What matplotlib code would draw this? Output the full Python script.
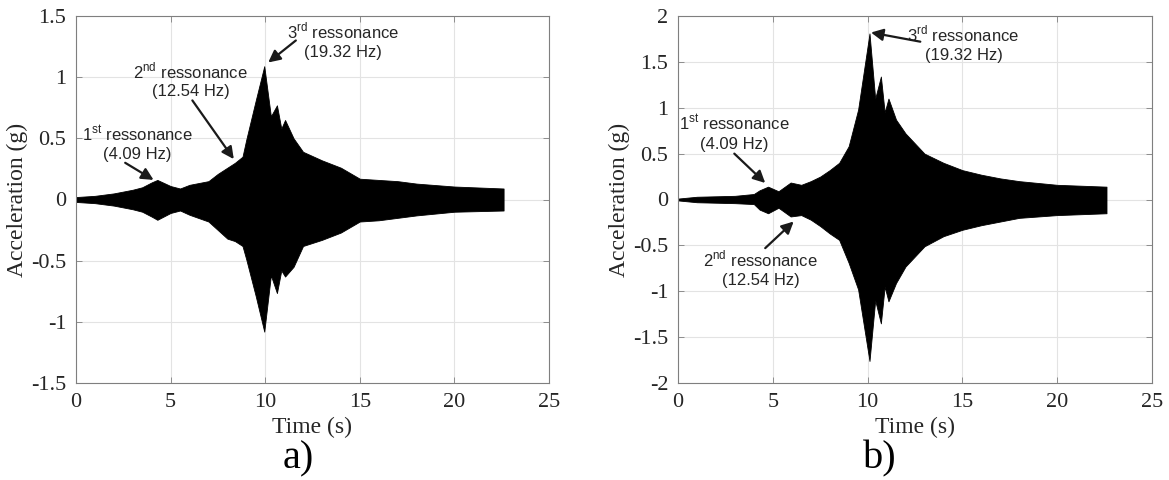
import numpy as np
import matplotlib
matplotlib.use('Agg')
import matplotlib.pyplot as plt

plt.rcParams['mathtext.fontset'] = 'custom'
plt.rcParams['mathtext.rm'] = 'Liberation Sans'

# envelope of the response (time s, upper g, lower g)
t_a = [0, 1, 2, 3, 3.5, 4, 4.3, 5, 5.5, 6, 7, 7.5, 8, 8.4, 8.8, 9, 9.5, 9.95,
       10.3, 10.62, 10.85, 11.05, 11.5, 12, 13, 14, 15, 16, 17, 18, 20, 22.6]
up_a = [0.02, 0.03, 0.05, 0.08, 0.10, 0.14, 0.16, 0.11, 0.09, 0.12, 0.15, 0.21,
        0.26, 0.30, 0.35, 0.49, 0.81, 1.09, 0.68, 0.77, 0.58, 0.65, 0.50, 0.39,
        0.32, 0.26, 0.17, 0.16, 0.15, 0.13, 0.106, 0.09]
lo_a = [-0.02, -0.03, -0.05, -0.08, -0.10, -0.14, -0.166, -0.11, -0.09, -0.125,
        -0.18, -0.25, -0.32, -0.34, -0.38, -0.49, -0.79, -1.08, -0.62, -0.765,
        -0.58, -0.63, -0.55, -0.38, -0.33, -0.27, -0.18, -0.17, -0.15, -0.13,
        -0.10, -0.09]

t_b = [0, 1, 2, 3, 4, 4.3, 4.75, 5.3, 5.94, 6.5, 7, 7.5, 8, 8.5, 9, 9.5, 10.1,
       10.4, 10.7, 10.9, 11.1, 11.5, 12, 13, 14, 15, 16, 17, 18, 20, 22.6]
up_b = [0.01, 0.03, 0.035, 0.04, 0.06, 0.10, 0.14, 0.09, 0.185, 0.16, 0.20, 0.25,
        0.32, 0.40, 0.58, 0.98, 1.81, 1.10, 1.34, 0.95, 1.10, 0.87, 0.72, 0.50,
        0.40, 0.32, 0.27, 0.23, 0.20, 0.16, 0.14]
lo_b = [-0.01, -0.03, -0.035, -0.04, -0.05, -0.11, -0.15, -0.09, -0.185, -0.17,
        -0.22, -0.29, -0.37, -0.44, -0.69, -0.98, -1.76, -1.10, -1.35, -0.95,
        -1.11, -0.91, -0.73, -0.51, -0.40, -0.33, -0.28, -0.24, -0.20, -0.17,
        -0.15]

# annotations: text, text position, arrow tail, arrow head
notes_a = [
    ('3$^{\\mathrm{rd}}$ ressonance\n(19.32 Hz)', (14.1, 1.30), (11.62, 1.30), (10.16, 1.12)),
    ('2$^{\\mathrm{nd}}$ ressonance\n(12.54 Hz)', (6.07, 0.98), (6.15, 0.81), (8.34, 0.33)),
    ('1$^{\\mathrm{st}}$ ressonance\n(4.09 Hz)', (3.25, 0.46), (2.6, 0.30), (4.1, 0.16)),
]
notes_b = [
    ('3$^{\\mathrm{rd}}$ ressonance\n(19.32 Hz)', (15.06, 1.70), (12.78, 1.72), (10.18, 1.82)),
    ('1$^{\\mathrm{st}}$ ressonance\n(4.09 Hz)', (2.97, 0.73), (2.97, 0.50), (4.6, 0.18)),
    ('2$^{\\mathrm{nd}}$ ressonance\n(12.54 Hz)', (4.36, -0.75), (4.6, -0.53), (6.1, -0.24)),
]

fig = plt.figure(figsize=(11.69, 4.8), dpi=100)
ax1 = fig.add_axes([76 / 1169, 1 - 383 / 480, 473 / 1169, 367 / 480])
ax2 = fig.add_axes([678 / 1169, 1 - 383 / 480, 474 / 1169, 367 / 480])


def style(ax, ylim, yticks, ylabels):
    ax.set_xlim(0, 25)
    ax.set_ylim(*ylim)
    ax.set_xticks([0, 5, 10, 15, 20, 25])
    ax.set_yticks(yticks)
    ax.set_yticklabels(ylabels)
    ax.grid(True, color='#e3e3e3', lw=0.8)
    ax.set_axisbelow(True)
    for s in ax.spines.values():
        s.set_color('#7f7f7f')
        s.set_linewidth(0.8)
    ax.tick_params(direction='in', length=4, width=0.6, color='#7f7f7f',
                   top=True, right=True, labelsize=16, labelcolor='#262626', pad=7)
    for lab in ax.get_xticklabels() + ax.get_yticklabels():
        lab.set_family('Liberation Serif')
    ax.set_xlabel('Time (s)', family='Liberation Serif', fontsize=17,
                  color='#262626', labelpad=4)
    ax.set_ylabel('Acceleration (g)', family='Liberation Serif', fontsize=17,
                  color='#262626', labelpad=2)


for ax, t, up, lo, notes in [(ax1, t_a, up_a, lo_a, notes_a), (ax2, t_b, up_b, lo_b, notes_b)]:
    ax.fill_between(t, lo, up, color='black', lw=0.6, edgecolor='black')
    for txt, pos, tail, head in notes:
        ax.text(pos[0], pos[1], txt, ha='center', va='center', fontsize=12,
                family='Liberation Sans', color='#262626', linespacing=1.25)
        ax.annotate('', xy=head, xytext=tail,
                    arrowprops=dict(arrowstyle='-|>', color='#1a1a1a', lw=1.6,
                                    mutation_scale=18, shrinkA=0, shrinkB=0))

style(ax1, (-1.5, 1.5), [-1.5, -1, -0.5, 0, 0.5, 1, 1.5],
      ['-1.5', '-1', '-0.5', '0', '0.5', '1', '1.5'])
style(ax2, (-2, 2), [-2, -1.5, -1, -0.5, 0, 0.5, 1, 1.5, 2],
      ['-2', '-1.5', '-1', '-0.5', '0', '0.5', '1', '1.5', '2'])

fig.text(298 / 1169, 1 - 459 / 480, 'a)', family='Liberation Serif', fontsize=29,
         ha='center', va='center')
fig.text(880 / 1169, 1 - 459 / 480, 'b)', family='Liberation Serif', fontsize=29,
         ha='center', va='center')

fig.savefig('out.png', dpi=100)
